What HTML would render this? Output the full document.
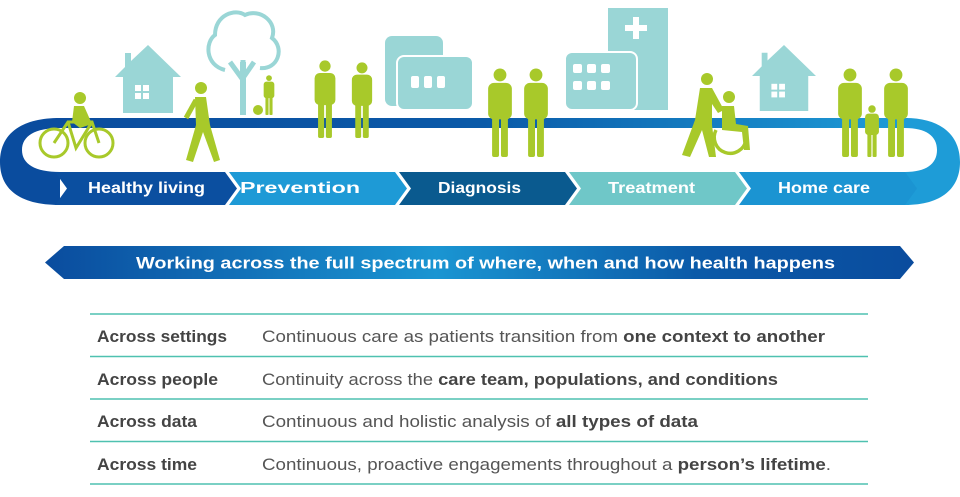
<!DOCTYPE html>
<html><head><meta charset="utf-8"><style>
html,body{margin:0;padding:0;background:#fff;}
body{width:960px;height:497px;position:relative;overflow:hidden;font-family:"Liberation Sans",sans-serif;}
svg{position:absolute;left:0;top:0;}
.t{font-family:"Liberation Sans",sans-serif;font-size:16.5px;fill:#555;}
.b{font-weight:bold;fill:#444;}
</style></head><body>
<svg width="960" height="497" viewBox="0 0 960 497">
<defs>
<linearGradient id="tg" x1="0" x2="1" y1="0" y2="0"><stop offset="0" stop-color="#0a4c9e"/><stop offset="0.5" stop-color="#0a5aa8"/><stop offset="1" stop-color="#1e9cd7"/></linearGradient>
<linearGradient id="bg" x1="0" x2="1" y1="0" y2="0"><stop offset="0" stop-color="#0a4c9e"/><stop offset="0.45" stop-color="#1a95d2"/><stop offset="0.75" stop-color="#0b5aa8"/><stop offset="1" stop-color="#0a4c9e"/></linearGradient>
<symbol id="p" viewBox="0 0 30 90"><circle cx="15" cy="7" r="6.5"/><rect x="3" y="15" width="24" height="37" rx="6"/><rect x="7" y="46" width="7" height="44" rx="2"/><rect x="16" y="46" width="7" height="44" rx="2"/></symbol>
<symbol id="h" viewBox="0 0 66 68"><polygon points="33,0 66,32 58,32 58,68 8,68 8,32 0,32 10,22 10,8 16,8 16,16"/><g fill="#fff"><rect x="20" y="40" width="6" height="6"/><rect x="28" y="40" width="6" height="6"/><rect x="20" y="48" width="6" height="6"/><rect x="28" y="48" width="6" height="6"/></g></symbol>
</defs>
<path d="M60 118 L60 128 C 35 128 22 136 22 150 C 22 164 35 172 60 172 L60 205 C 18 205 0 188 0 162 C 0 136 18 118 60 118 Z" fill="#0a4c9e"/>
<rect x="58" y="118" width="850" height="10" fill="url(#tg)"/>
<path d="M905 118 C 942 118 960 136 960 162 C 960 188 942 205 905 205 L905 172 C 926 172 937 164 937 150 C 937 136 926 128 905 128 Z" fill="#1e9cd7"/>
<polygon points="55,172 225,172 237,188.5 225,205 55,205 67,188.5" fill="#0b4fa0"/>
<polygon points="229,172 395,172 407,188.5 395,205 229,205 241,188.5" fill="#1e9ad6"/>
<polygon points="399,172 565,172 577,188.5 565,205 399,205 411,188.5" fill="#0a5a8f"/>
<polygon points="569,172 735,172 747,188.5 735,205 569,205 581,188.5" fill="#6fc7c8"/>
<polygon points="739,172 905,172 917,188.5 905,205 739,205 751,188.5" fill="#1b94d2"/>
<g font-family="Liberation Sans" font-size="16" font-weight="bold" fill="#fff">
<text x="88" y="193" textLength="117" lengthAdjust="spacingAndGlyphs">Healthy living</text>
<text x="240" y="193" textLength="120" lengthAdjust="spacingAndGlyphs">Prevention</text>
<text x="438" y="193" textLength="83" lengthAdjust="spacingAndGlyphs">Diagnosis</text>
<text x="608" y="193" textLength="87" lengthAdjust="spacingAndGlyphs">Treatment</text>
<text x="778" y="193" textLength="92" lengthAdjust="spacingAndGlyphs">Home care</text></g>
<g fill="#9ad6d6">
<use href="#h" x="115" y="45" width="66" height="68"/>
<use href="#h" x="752" y="45" width="64" height="66"/>
<rect x="385" y="36" width="58" height="70" rx="7"/>
<rect x="397" y="56" width="76" height="54" rx="7" stroke="#fff" stroke-width="2"/>
<rect x="608" y="8" width="60" height="102"/>
<rect x="565" y="52" width="72" height="58" rx="7" stroke="#fff" stroke-width="2"/>
<path d="M243 110 L243 60 M243 80 L230 62 M243 78 L254 62" stroke="#9ad6d6" stroke-width="5" fill="none"/>
<path d="M225 70 C 205 65 205 42 215 35 C 215 15 235 8 245 15 C 260 8 278 22 272 38 C 285 48 278 70 260 68" stroke="#9ad6d6" stroke-width="4" fill="none"/>
<rect x="240" y="62" width="6" height="53"/>
</g>
<g fill="#fff"><rect x="411" y="76" width="8" height="12" rx="2"/><rect x="424" y="76" width="8" height="12" rx="2"/><rect x="437" y="76" width="8" height="12" rx="2"/>
<rect x="573" y="64" width="9" height="9" rx="2"/><rect x="587" y="64" width="9" height="9" rx="2"/><rect x="601" y="64" width="9" height="9" rx="2"/>
<rect x="573" y="81" width="9" height="9" rx="2"/><rect x="587" y="81" width="9" height="9" rx="2"/><rect x="601" y="81" width="9" height="9" rx="2"/>
<rect x="633" y="17" width="6" height="22"/><rect x="625" y="25" width="22" height="6"/></g>
<g fill="#a8c92a">
<use href="#p" x="312" y="60" width="26" height="78"/>
<use href="#p" x="349" y="62" width="26" height="76"/>
<use href="#p" x="485" y="68" width="30" height="89"/>
<use href="#p" x="521" y="68" width="30" height="89"/>
<use href="#p" x="835" y="68" width="30" height="89"/>
<use href="#p" x="881" y="68" width="30" height="89"/>
<use href="#p" x="862" y="105" width="20" height="52"/>
<use href="#p" x="262" y="75" width="14" height="40"/>
<circle cx="258" cy="110" r="5"/>
<circle cx="201" cy="88" r="6"/><path d="M195 97 L206 97 L210 125 L220 160 L214 162 L203 132 L193 162 L186 160 L196 125 Z"/><path d="M196 100 L186 118" stroke="#a8c92a" stroke-width="5"/>
<g fill="none" stroke="#a8c92a" stroke-width="3"><circle cx="54" cy="143" r="14"/><circle cx="99" cy="143" r="14"/><path d="M54 143 L68 122 L92 122 L99 143 M68 122 L76 148 L92 122"/></g>
<circle cx="80" cy="98" r="6"/><path d="M74 106 L84 106 L92 124 L80 128 L72 122 Z"/>
<circle cx="707" cy="79" r="6"/><path d="M700 88 L712 88 L724 110 L718 113 L712 104 L712 125 L716 157 L709 157 L702 130 L690 157 L682 155 L695 120 Z"/>
<circle cx="729" cy="97" r="6"/><path d="M722 106 L734 106 L736 124 L748 126 L750 150 L744 150 L742 132 L722 130 Z"/>
<path d="M716 130 A16 16 0 1 0 746 140" fill="none" stroke="#a8c92a" stroke-width="3.5"/>
</g>
<polygon points="45,262.5 64,246 900,246 914,262.5 900,279 64,279" fill="url(#bg)"/>
<text x="136" y="268.5" textLength="699" lengthAdjust="spacingAndGlyphs" font-family="Liberation Sans" font-size="17" font-weight="bold" fill="#fff">Working across the full spectrum of where, when and how health happens</text>
<g stroke="#4fc1b0" stroke-width="1.5"><line x1="90" y1="314" x2="868" y2="314"/><line x1="90" y1="356.5" x2="868" y2="356.5"/><line x1="90" y1="399" x2="868" y2="399"/><line x1="90" y1="441.5" x2="868" y2="441.5"/><line x1="90" y1="484" x2="868" y2="484"/></g>
<text class="t b" x="97" y="342" textLength="130" lengthAdjust="spacingAndGlyphs">Across settings</text>
<text class="t" x="262" y="342" textLength="563" lengthAdjust="spacingAndGlyphs">Continuous care as patients transition from <tspan class="b">one context to another</tspan></text>
<text class="t b" x="97" y="385" textLength="121" lengthAdjust="spacingAndGlyphs">Across people</text>
<text class="t" x="262" y="385" textLength="516" lengthAdjust="spacingAndGlyphs">Continuity across the <tspan class="b">care team, populations, and conditions</tspan></text>
<text class="t b" x="97" y="427" textLength="100" lengthAdjust="spacingAndGlyphs">Across data</text>
<text class="t" x="262" y="427" textLength="436" lengthAdjust="spacingAndGlyphs">Continuous and holistic analysis of <tspan class="b">all types of data</tspan></text>
<text class="t b" x="97" y="470" textLength="100" lengthAdjust="spacingAndGlyphs">Across time</text>
<text class="t" x="262" y="470" textLength="569" lengthAdjust="spacingAndGlyphs">Continuous, proactive engagements throughout a <tspan class="b">person’s lifetime</tspan>.</text>
</svg>
</body></html>
